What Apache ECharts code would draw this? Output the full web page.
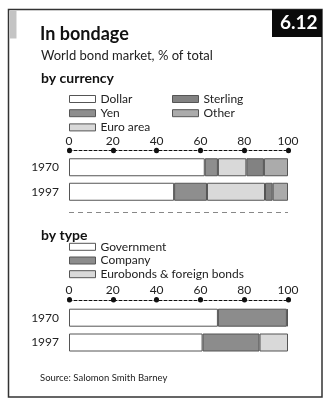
<!DOCTYPE html>
<html>
<head>
<meta charset="utf-8">
<script src="https://cdn.jsdelivr.net/npm/echarts@6/dist/echarts.min.js"></script>
<style>
html,body{margin:0;padding:0;background:#fff;}
#c{width:332px;height:406px;}
</style>
</head>
<body>
<div id="c"></div>
<script>
// ---- data ----
var years = ['1970', '1997'];
var ticks = [0, 20, 40, 60, 80, 100];
var currencyNames = ['Dollar', 'Yen', 'Euro area', 'Sterling', 'Other'];
var dollar   = [62, 48];
var yen      = [6, 15];
var euroArea = [13, 26.5];
var sterling = [8, 3.5];
var other    = [11, 7];
var typeNames = ['Government', 'Company', 'Eurobonds & foreign bonds'];
var government = [68, 61];
var company    = [31.5, 26];
var eurobonds  = [0.5, 13];

var FONT = 'Lato';
var currencyColors = ['#ffffff', '#8e8e8e', '#d9d9d9', '#828282', '#ababab'];
var typeColors = ['#ffffff', '#8c8c8c', '#d9d9d9'];

var chart = echarts.init(document.getElementById('c'), null, {renderer: 'canvas'});

function xAxisCfg(gridIndex, offset) {
  return {
    type: 'value', gridIndex: gridIndex, position: 'top', offset: offset,
    min: ticks[0], max: ticks[ticks.length - 1], interval: ticks[1] - ticks[0],
    splitLine: {show: false},
    axisLine: {show: true, lineStyle: {color: '#111', width: 1, type: [3, 2]}},
    axisTick: {show: true, length: 0.5, lineStyle: {color: '#111', width: 5, cap: 'round'}},
    axisLabel: {fontFamily: FONT, fontSize: 12, color: '#222', margin: 4}
  };
}
function yAxisCfg(gridIndex) {
  return {
    type: 'category', gridIndex: gridIndex, data: years, inverse: true,
    axisLine: {show: false}, axisTick: {show: false},
    axisLabel: {fontFamily: FONT, fontSize: 12, color: '#222', margin: 10}
  };
}
function barSeries(name, data, color, stack, idx) {
  return {
    name: name, type: 'bar', stack: stack, data: data,
    xAxisIndex: idx, yAxisIndex: idx, barWidth: 18,
    itemStyle: {color: color, borderColor: '#555', borderWidth: 1},
    emphasis: {disabled: true}, animation: false
  };
}

var currencyData = [dollar, yen, euroArea, sterling, other];
var typeData = [government, company, eurobonds];
var series = [];
currencyNames.forEach(function (n, i) { series.push(barSeries(n, currencyData[i], currencyColors[i], 'cur', 0)); });
typeNames.forEach(function (n, i) { series.push(barSeries(n, typeData[i], typeColors[i], 'type', 1)); });

function legendCfg(names, left, top, gap) {
  return {
    data: names, orient: 'vertical', left: left, top: top, padding: 0,
    itemWidth: 26, itemHeight: 7, itemGap: gap, icon: 'rect',
    selectedMode: false,
    itemStyle: {borderWidth: 1, borderColor: '#555'},
    textStyle: {fontFamily: FONT, fontSize: 12, color: '#222'}
  };
}

var option = {
  backgroundColor: '#ffffff',
  animation: false,
  title: [
    {text: 'In bondage', left: 35, top: 20, textStyle: {fontFamily: FONT, fontSize: 18, fontWeight: 'bold', color: '#111'}},
    {text: 'World bond market, % of total', left: 36, top: 44, textStyle: {fontFamily: FONT, fontSize: 13, fontWeight: 'normal', color: '#222'}},
    {text: 'by currency', left: 36, top: 66, textStyle: {fontFamily: FONT, fontSize: 14, fontWeight: 'bold', color: '#111'}},
    {text: 'by type', left: 36, top: 223, textStyle: {fontFamily: FONT, fontSize: 14, fontWeight: 'bold', color: '#111'}},
    {text: 'Source: Salomon Smith Barney', left: 35, top: 368, textStyle: {fontFamily: FONT, fontSize: 9.5, fontWeight: 'normal', color: '#222'}}
  ],
  legend: [
    legendCfg(currencyNames.slice(0, 3), 69, 93, 2.2),
    legendCfg(currencyNames.slice(3), 172, 93, 2.2),
    legendCfg(typeNames, 69, 240.8, 1.7)
  ],
  grid: [
    {left: 69, right: 44, top: 155, height: 49},
    {left: 69, right: 44, top: 305.3, height: 49.6}
  ],
  xAxis: [xAxisCfg(0, 4.3), xAxisCfg(1, 5.3)],
  yAxis: [yAxisCfg(0), yAxisCfg(1)],
  series: series,
  graphic: [
    {type: 'rect', shape: {x: 8.5, y: 9.5, width: 313.5, height: 387.5}, style: {fill: 'none', stroke: '#333', lineWidth: 1.5}, silent: true},
    {type: 'rect', shape: {x: 9.5, y: 10.5, width: 7, height: 28}, style: {fill: '#c4c4c4'}, silent: true},
    {type: 'rect', shape: {x: 272, y: 9.5, width: 50, height: 27.5}, style: {fill: '#0a0a0a'}, silent: true},
    {type: 'text', left: 280, top: 13, style: {text: '6.12', fill: '#fff', font: 'bold 19px Lato'}, silent: true},
    {type: 'line', shape: {x1: 69, y1: 212.5, x2: 288, y2: 212.5}, style: {stroke: '#888', lineWidth: 1, lineDash: [5, 4]}, silent: true}
  ]
};
chart.setOption(option);
</script>
</body>
</html>
